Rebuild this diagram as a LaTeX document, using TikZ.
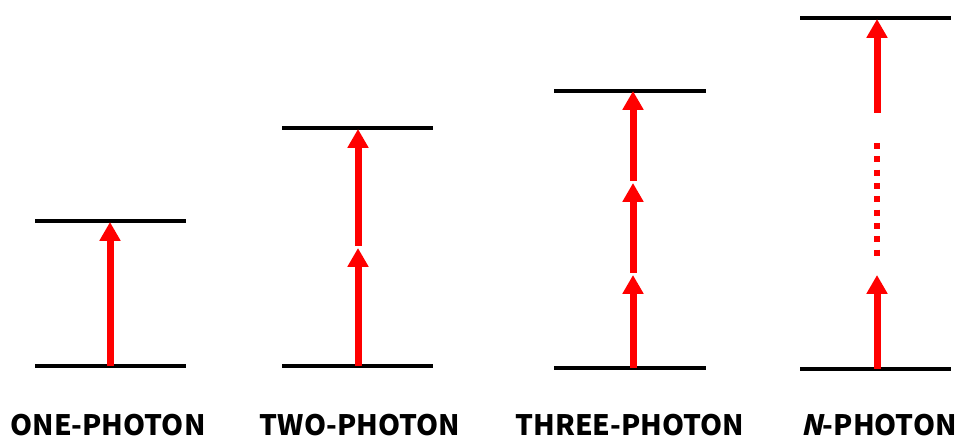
\documentclass[tikz,border=0pt]{standalone}
\usepackage{fontspec}
\setmainfont{Noto Sans CJK JP}
\newfontfamily\slantfont{Noto Sans CJK JP}[FakeSlant=0.22]
\usetikzlibrary{arrows.meta}
\definecolor{pred}{RGB}{255,0,0}

\begin{document}
\begin{tikzpicture}[x=0.025cm, y=-0.025cm,
  level/.style={draw=black, line width=0.1cm},
  photon/.style={-{Triangle[width=0.5cm, length=0.47cm]}, pred, line width=0.175cm},
  dots/.style={pred, line width=0.15cm, dash pattern=on 0.15cm off 0.183cm},
  lbl/.style={anchor=base, font=\fontsize{20}{24}\selectfont\bfseries, inner sep=0pt}
]
\useasboundingbox (0,0) rectangle (957,438);
% energy levels
\draw[level] (35,366) -- (186,366);  \draw[level] (35,221) -- (186,221);
\draw[level] (282,366) -- (433,366); \draw[level] (282,128) -- (433,128);
\draw[level] (554,368) -- (706,368); \draw[level] (554,91) -- (706,91);
\draw[level] (800,369) -- (951,369); \draw[level] (800,18) -- (951,18);
% one-photon
\coordinate (ag) at (110,366); \coordinate (ae) at (110,222);
\draw[photon] (ag) -- (ae);
% two-photon
\coordinate (bg) at (358,366); \coordinate (b1) at (358,248);
\coordinate (b2) at (358,246); \coordinate (be) at (358,129);
\draw[photon] (bg) -- (b1); \draw[photon] (b2) -- (be);
% three-photon
\coordinate (cg) at (633,368); \coordinate (c1) at (633,275);
\coordinate (c2) at (633,273); \coordinate (c3) at (633,183);
\coordinate (c4) at (633,181); \coordinate (ce) at (633,91);
\draw[photon] (cg) -- (c1); \draw[photon] (c2) -- (c3); \draw[photon] (c4) -- (ce);
% N-photon
\coordinate (dg) at (877,369); \coordinate (d1) at (877,275);
\coordinate (d2) at (877,143); \coordinate (d3) at (877,257);
\coordinate (d4) at (877,113); \coordinate (de) at (877,19);
\draw[photon] (dg) -- (d1); \draw[dots] (d2) -- (d3); \draw[photon] (d4) -- (de);
% labels
\node[lbl] (one) at (108,435) {ONE-PHOTON};
\node[lbl] (two) at (360,435) {TWO-PHOTON};
\node[lbl] (three) at (630,435) {THREE-PHOTON};
\node[lbl] (enn) at (879,435) {{\slantfont\bfseries N}-PHOTON};
\end{tikzpicture}
\end{document}
